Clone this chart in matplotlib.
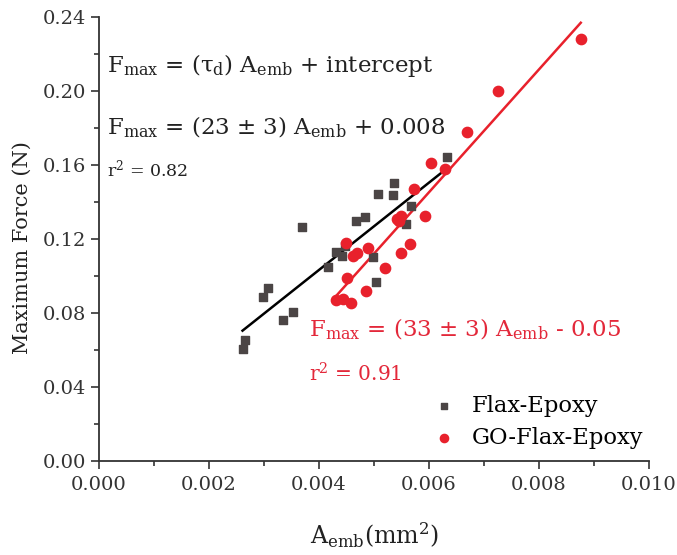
import numpy as np
import matplotlib
matplotlib.use('Agg')
import matplotlib.pyplot as plt

plt.rcParams['font.family'] = 'serif'
plt.rcParams['font.serif'] = ['DejaVu Serif']
plt.rcParams['mathtext.fontset'] = 'dejavuserif'
plt.rcParams['font.size'] = 15

# Flax-Epoxy (embedded area mm^2, max force N)
flax_x = [0.00633, 0.00536, 0.00508, 0.00534, 0.00567, 0.00468, 0.00484, 0.00370,
          0.00559, 0.00431, 0.00441, 0.00417, 0.00498, 0.00503, 0.00308, 0.00298,
          0.00352, 0.00335, 0.00265, 0.00261, 0.00447]
flax_y = [0.1640, 0.1503, 0.1442, 0.1436, 0.1377, 0.1296, 0.1320, 0.1265,
          0.1278, 0.1130, 0.1107, 0.1049, 0.1099, 0.0968, 0.0932, 0.0887,
          0.0802, 0.0761, 0.0652, 0.0602, 0.1160]

# GO-Flax-Epoxy
go_x = [0.00876, 0.00726, 0.00670, 0.00603, 0.00629, 0.00573, 0.00592, 0.00541,
        0.00550, 0.00546, 0.00565, 0.00549, 0.00520, 0.00489, 0.00469, 0.00462,
        0.00450, 0.00451, 0.00485, 0.00431, 0.00443, 0.00459]
go_y = [0.2280, 0.1998, 0.1778, 0.1611, 0.1575, 0.1467, 0.1323, 0.1305,
        0.1323, 0.1295, 0.1171, 0.1121, 0.1040, 0.1148, 0.1121, 0.1108,
        0.1178, 0.0986, 0.0919, 0.0869, 0.0872, 0.0851]

# linear fits
flax_fit = (23.6, 0.0087)
flax_range = (0.00261, 0.00635)
go_fit = (33.2, -0.0541)
go_range = (0.00431, 0.00876)

gray = '#4b4545'
red = '#e8212c'
red_txt = '#e3283a'

fig = plt.figure(figsize=(6.77, 5.55), dpi=100)
ax = fig.add_axes([0.1462, 0.1699, 0.8124, 0.8000])

xf = np.array(flax_range)
ax.plot(xf, flax_fit[0] * xf + flax_fit[1], color='black', lw=1.8, zorder=2)
xg = np.array(go_range)
ax.plot(xg, go_fit[0] * xg + go_fit[1], color=red, lw=1.8, zorder=2)

ax.scatter(flax_x, flax_y, marker='s', s=36, color=gray, label='Flax-Epoxy', zorder=3)
ax.scatter(go_x, go_y, marker='o', s=55, color=red, label='GO-Flax-Epoxy', zorder=4)

ax.set_xlim(0, 0.010)
ax.set_ylim(0, 0.24)
ax.set_xticks(np.arange(0, 0.0101, 0.002))
ax.set_xticks(np.arange(0, 0.0101, 0.001), minor=True)
ax.set_yticks(np.arange(0, 0.241, 0.04))
ax.set_yticks(np.arange(0, 0.241, 0.02), minor=True)
ax.xaxis.set_major_formatter(plt.FormatStrFormatter('%.3f'))
ax.yaxis.set_major_formatter(plt.FormatStrFormatter('%.2f'))
ax.tick_params(which='both', direction='out', labelsize=14, color='#333333', width=1.2,
               labelcolor='#333333')
ax.tick_params(which='major', length=6)
ax.tick_params(axis='x', which='major', pad=5)
ax.tick_params(which='minor', length=3.5)
for s in ['top', 'right']:
    ax.spines[s].set_visible(False)
for s in ['left', 'bottom']:
    ax.spines[s].set_linewidth(1.3)
    ax.spines[s].set_color('#333333')

ax.set_xlabel(r'A$_{\mathrm{emb}}$(mm$^{2}$)', fontsize=17, labelpad=19, color='#222222')
ax.set_ylabel('Maximum Force (N)', fontsize=15, color='#222222')
ax.yaxis.set_label_coords(-0.122, 0.48)

ax.text(0.00014, 0.2103, r'F$_{\mathrm{max}}$ = (τ$_{\mathrm{d}}$) A$_{\mathrm{emb}}$ + intercept',
        fontsize=16.5, color='#222222')
ax.text(0.00014, 0.1764, r'F$_{\mathrm{max}}$ = (23 ± 3) A$_{\mathrm{emb}}$ + 0.008',
        fontsize=16.5, color='#222222')
ax.text(0.00014, 0.1535, r'r$^{2}$ = 0.82', fontsize=12.5, color='#222222')
ax.text(0.00382, 0.0670, r'F$_{\mathrm{max}}$ = (33 ± 3) A$_{\mathrm{emb}}$ - 0.05',
        fontsize=16.5, color=red_txt)
ax.text(0.00382, 0.0427, r'r$^{2}$ = 0.91', fontsize=14.5, color=red_txt)

ax.legend(loc='upper left', bbox_to_anchor=(0.6067, 0.148), frameon=False,
          fontsize=16.3, borderpad=0, borderaxespad=0, handlelength=1.0,
          handletextpad=0.74, labelspacing=0.42, markerscale=0.8)

fig.savefig('out.png', dpi=100)
